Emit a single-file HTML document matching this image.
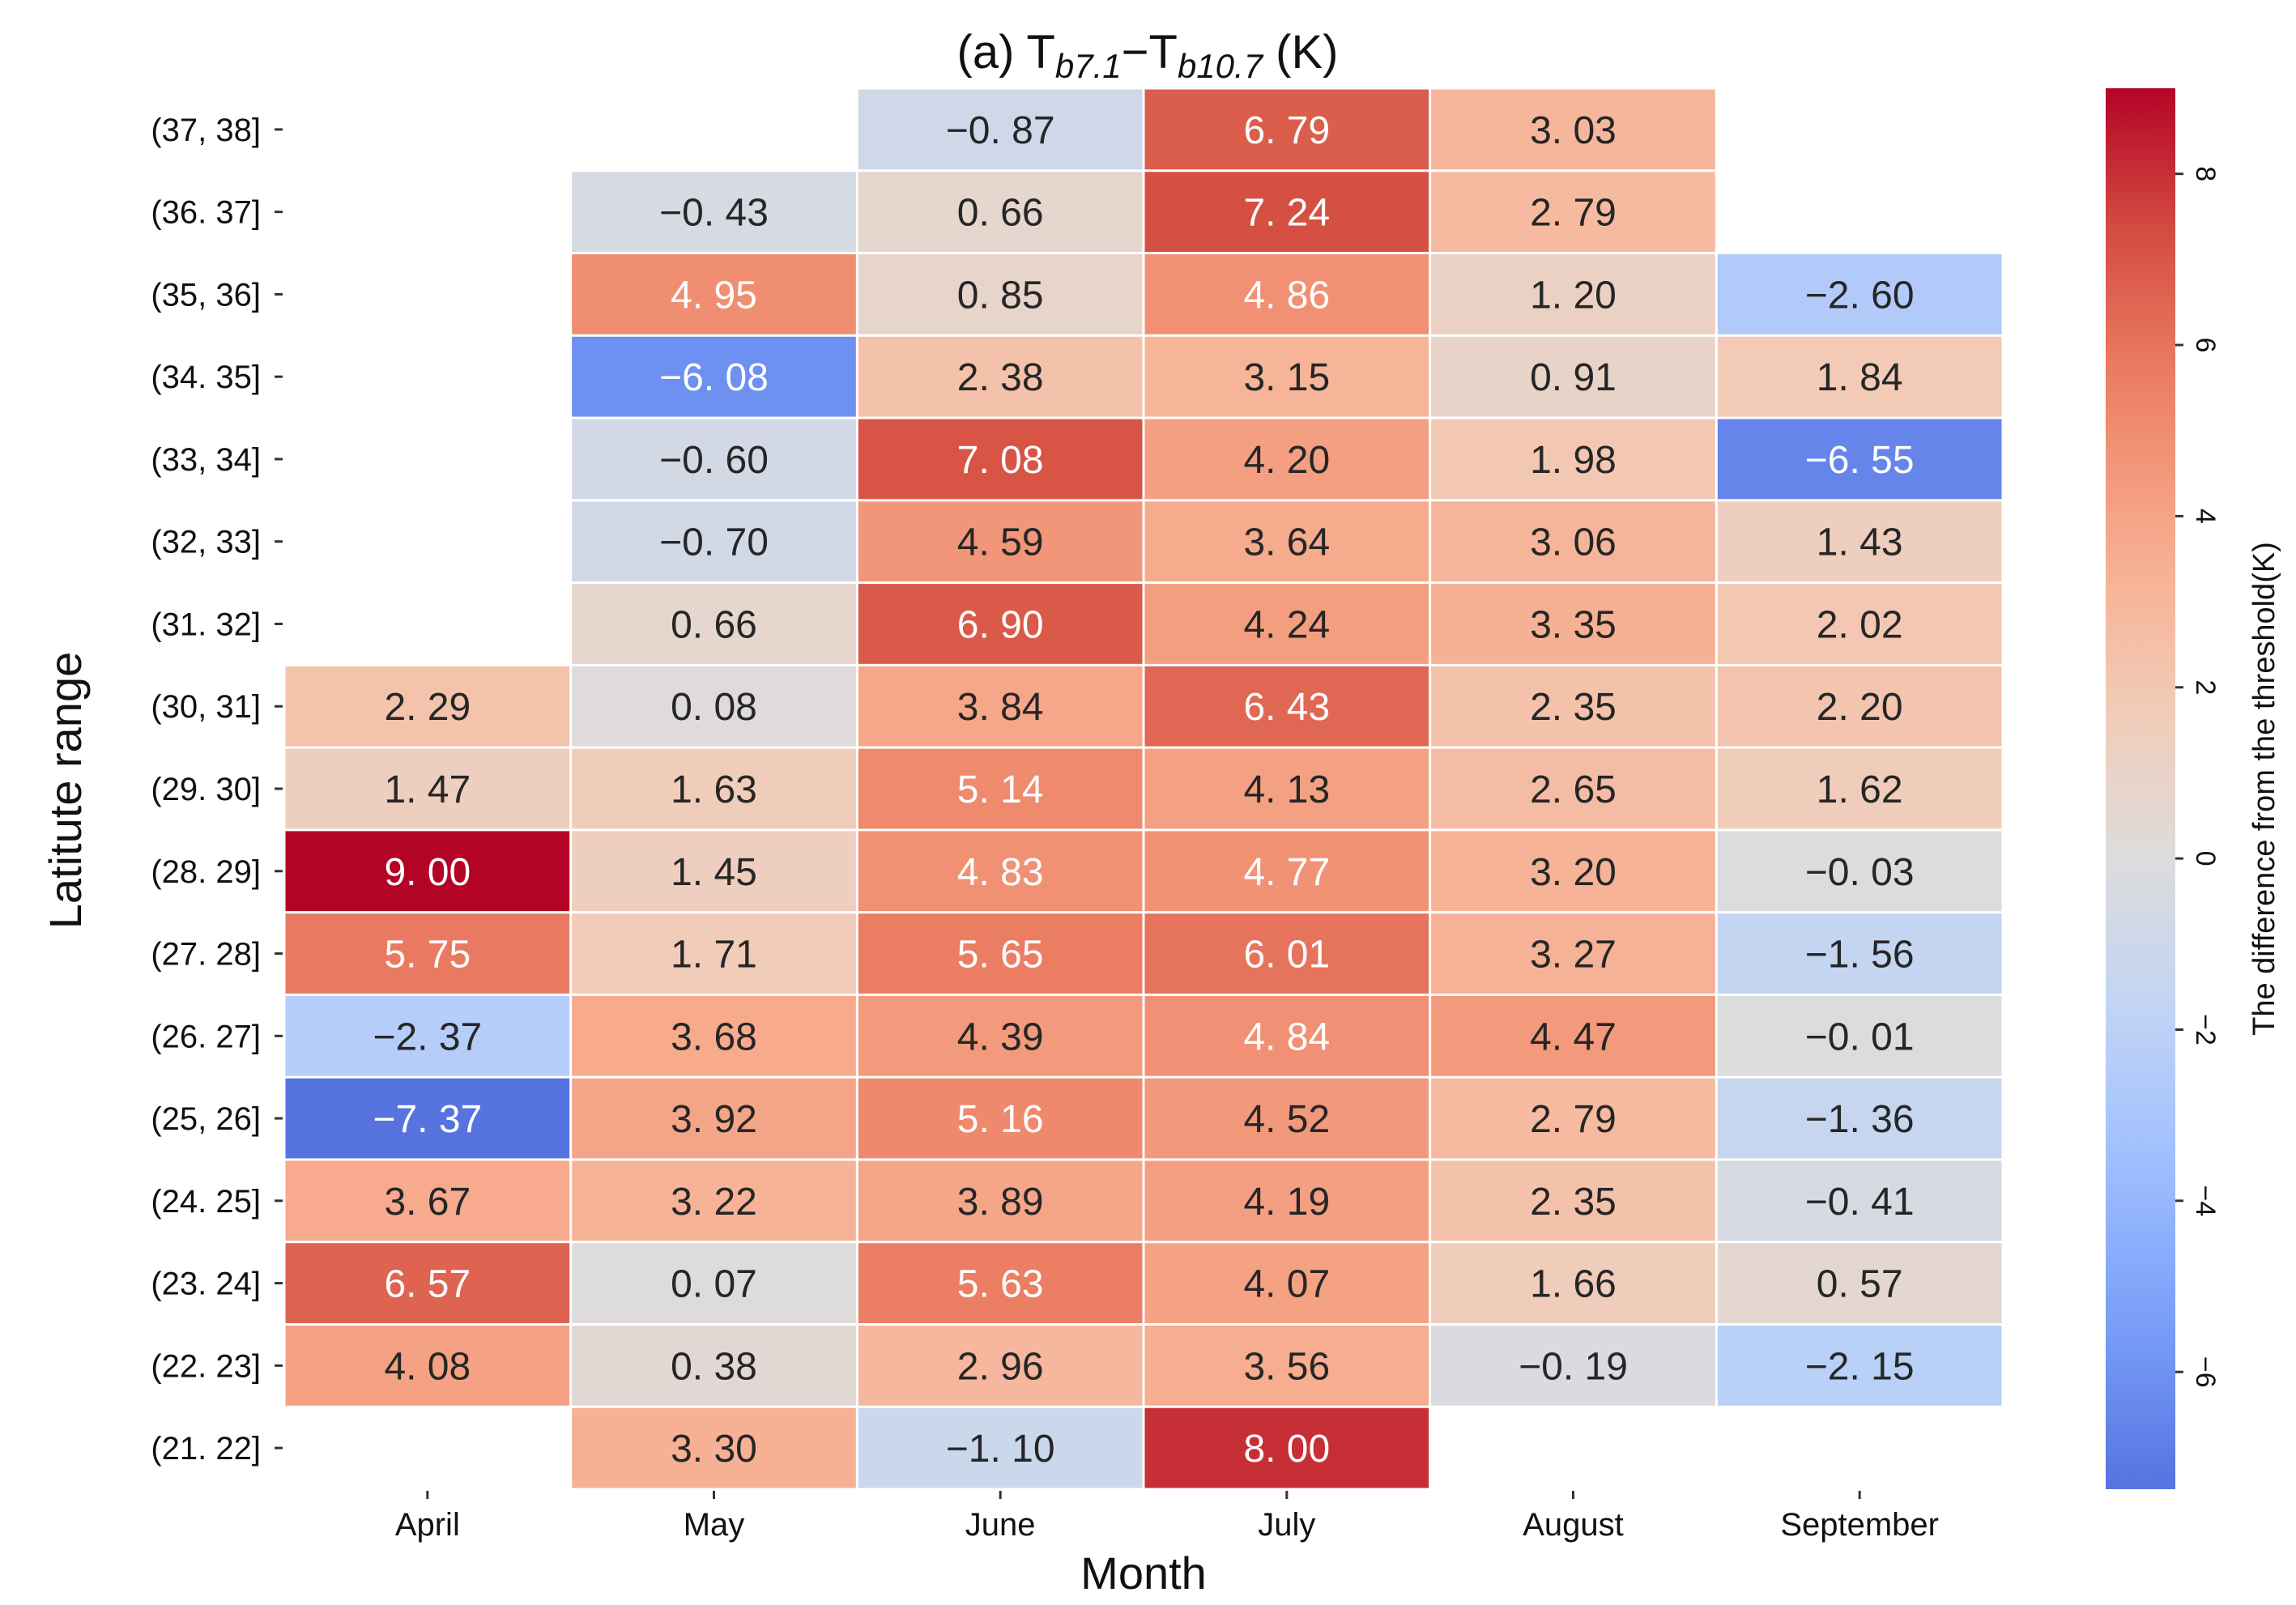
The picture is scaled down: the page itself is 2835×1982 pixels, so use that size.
<!DOCTYPE html>
<html><head><meta charset="utf-8"><style>
html,body{margin:0;padding:0;background:#fff;}
svg{display:block;}
text{font-family:"WenQuanYi Zen Hei","Liberation Sans",sans-serif;}
</style></head><body>
<svg id="chart" width="2835" height="1982" viewBox="0 0 2835 1982" xmlns="http://www.w3.org/2000/svg">
<text x="1417" y="84" font-size="58" text-anchor="middle" fill="#111">(a) T<tspan font-size="42" dy="12" font-style="italic">b7.1</tspan><tspan dy="-12">−T</tspan><tspan font-size="42" dy="12" font-style="italic">b10.7</tspan><tspan dy="-12"> (K)</tspan></text>
<g id="cells"></g>
<g id="yticks"></g>
<g id="xticks"></g>
<text x="1412" y="1962" font-size="56" text-anchor="middle" fill="#111">Month</text>
<text transform="translate(100,976) rotate(-90)" font-size="56" text-anchor="middle" fill="#111">Latitute range</text>
<defs><linearGradient id="cbg" x1="0" y1="1" x2="0" y2="0"></linearGradient></defs>
<rect x="2600" y="109" width="86" height="1730" fill="url(#cbg)"/>
<g id="cbticks"></g>
<text transform="translate(2808,974) rotate(-90)" font-size="38" text-anchor="middle" fill="#111">The difference from the threshold(K)</text>
</svg>
<script>
const months = ["April","May","June","July","August","September"];
const rowLabels = ["(37, 38]","(36. 37]","(35, 36]","(34. 35]","(33, 34]","(32, 33]","(31. 32]","(30, 31]","(29. 30]","(28. 29]","(27. 28]","(26. 27]","(25, 26]","(24. 25]","(23. 24]","(22. 23]","(21. 22]"];
const colApril = [null,null,null,null,null,null,null,2.29,1.47,9.00,5.75,-2.37,-7.37,3.67,6.57,4.08,null];
const colMay = [null,-0.43,4.95,-6.08,-0.60,-0.70,0.66,0.08,1.63,1.45,1.71,3.68,3.92,3.22,0.07,0.38,3.30];
const colJune = [-0.87,0.66,0.85,2.38,7.08,4.59,6.90,3.84,5.14,4.83,5.65,4.39,5.16,3.89,5.63,2.96,-1.10];
const colJuly = [6.79,7.24,4.86,3.15,4.20,3.64,4.24,6.43,4.13,4.77,6.01,4.84,4.52,4.19,4.07,3.56,8.00];
const colAugust = [3.03,2.79,1.20,0.91,1.98,3.06,3.35,2.35,2.65,3.20,3.27,4.47,2.79,2.35,1.66,-0.19,null];
const colSeptember = [null,null,-2.60,1.84,-6.55,1.43,2.02,2.20,1.62,-0.03,-1.56,-0.01,-1.36,-0.41,0.57,-2.15,null];
const cbTicks = [-6,-4,-2,0,2,4,6,8];
const vmin = -7.37, vmax = 9.0, center = 0;

const columns = [colApril,colMay,colJune,colJuly,colAugust,colSeptember];
const L=351, R=2473, T=109, B=1839;
const cw=(R-L)/months.length, rh=(B-T)/rowLabels.length;
const xPos = i => L + i*cw;
const yPos = j => T + j*rh;
const cbY = v => B - (v - vmin)/(vmax - vmin)*(B - T);
const vrange = Math.max(vmax-center, center-vmin);
const norm = v => 0.5 + (v-center)/(2*vrange);
const stops=[[59,76,192],[89,119,227],[123,159,249],[158,190,255],[192,212,245],[221,220,220],[242,203,183],[247,172,142],[238,132,104],[214,82,68],[180,4,38]];
function cmap(t){t=Math.max(0,Math.min(1,t));const p=t*10,i=Math.min(9,Math.floor(p)),f=p-i;const a=stops[i],b=stops[i+1];return [0,1,2].map(k=>Math.round(a[k]+(b[k]-a[k])*f));}
function relLum(c){const l=c.map(x=>{x/=255;return x<=0.03928?x/12.92:Math.pow((x+0.055)/1.055,2.4);});return 0.2126*l[0]+0.7152*l[1]+0.0722*l[2];}
const NS="http://www.w3.org/2000/svg";
function mk(tag,attrs,parent){const e=document.createElementNS(NS,tag);for(const k in attrs)e.setAttribute(k,attrs[k]);parent.appendChild(e);return e;}
const cells=document.getElementById('cells');
columns.forEach((col,i)=>{col.forEach((v,j)=>{
  if(v===null)return;
  const c=cmap(norm(v));
  const r=mk('rect',{x:xPos(i)+1.5,y:yPos(j)+1.5,width:cw-3,height:rh-3,fill:`rgb(${c})`},cells);
  
  
  const t=mk('text',{x:xPos(i)+cw/2,y:yPos(j)+rh/2+17,'font-size':48,'text-anchor':'middle',fill:relLum(c)<0.408?'#fff':'#262626'},cells);
  t.textContent=v.toFixed(2).replace('.','. ').replace('-','−');
  
  
});});
const yt=document.getElementById('yticks');
rowLabels.forEach((lab,j)=>{
  const cy=yPos(j)+rh/2;
  const l=mk('line',{x1:339,x2:349,y1:cy,y2:cy,stroke:'#333','stroke-width':3},yt);
  
  
  const t=mk('text',{x:322,y:cy+14,'font-size':40,'text-anchor':'end',fill:'#111'},yt);
  t.textContent=lab;
  
  
});
const xt=document.getElementById('xticks');
months.forEach((m,i)=>{
  const cx=xPos(i)+cw/2;
  const l=mk('line',{x1:cx,x2:cx,y1:1841,y2:1851,stroke:'#333','stroke-width':3},xt);
  
  
  const t=mk('text',{x:cx,y:1896,'font-size':40,'text-anchor':'middle',fill:'#111'},xt);
  t.textContent=m;
  
  
});
const g=document.getElementById('cbg');
for(let k=0;k<=20;k++){const v=vmin+(vmax-vmin)*k/20;const c=cmap(norm(v));mk('stop',{offset:(k*5)+'%','stop-color':`rgb(${c})`},g);}
const cbt=document.getElementById('cbticks');
cbTicks.forEach(v=>{
  const y=cbY(v);
  const l=mk('line',{x1:2686,x2:2696,y1:y,y2:y,stroke:'#333','stroke-width':3},cbt);
  
  
  const t=mk('text',{transform:`translate(2712,${y}) rotate(90)`,'font-size':34,'text-anchor':'middle',fill:'#111'},cbt);
  t.textContent=String(v).replace('-','−');
  
  
});
</script>
</body></html>
